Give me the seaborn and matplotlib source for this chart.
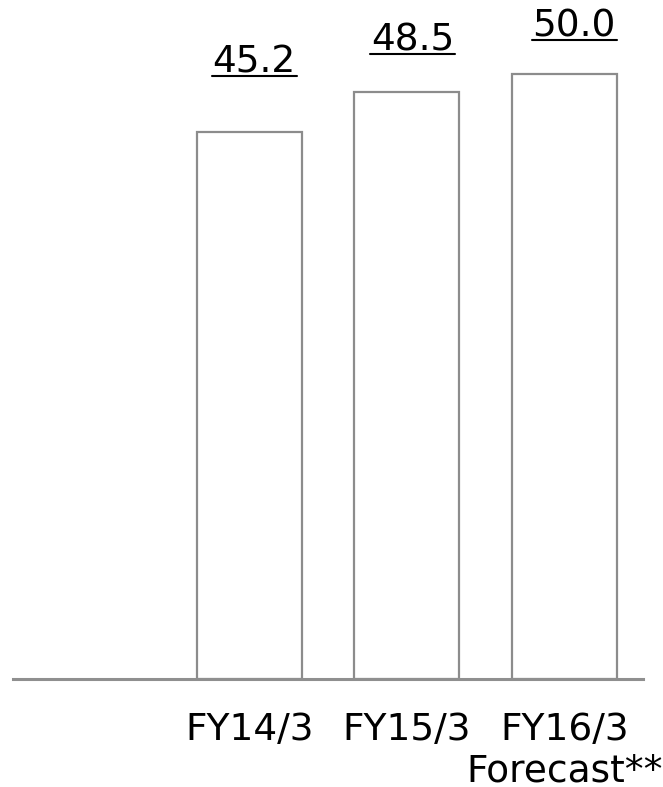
import matplotlib
matplotlib.use("Agg")
import matplotlib.pyplot as plt
import seaborn as sns
import pandas as pd
from matplotlib.lines import Line2D

# ---- data ----
categories = ["FY14/3", "FY15/3", "FY16/3\nForecast**"]
values = [45.2, 48.5, 50.0]
value_labels = ["45.2", "48.5", "50.0"]
slot_order = [""] + categories  # empty leading slot

# ---- style ----
label_offsets_px = [(5, 59), (6, 41), (10, 37)]  # (dx, dy) from bar top, pixels
edge_color = "#8c8c8c"
DPI = 100
FS = 27

sns.set_theme(style="white")
plt.rcParams["font.family"] = ["DejaVu Sans"]

fig = plt.figure(figsize=(6.63, 7.87), dpi=DPI)
ax = fig.add_axes([13 / 663, 1 - 679 / 787, 630 / 663, 679 / 787])

df = pd.DataFrame({"cat": categories, "val": values})
sns.barplot(data=df, x="cat", y="val", order=slot_order, ax=ax,
            color="white", edgecolor=edge_color, linewidth=1.6,
            width=0.667, saturation=1)

ax.set_xlim(-0.5, len(slot_order) - 0.5)
ax.set_ylim(0, 56.1)
ax.set_xlabel("")
ax.set_ylabel("")
ax.set_yticks([])
for s in ["top", "right", "left"]:
    ax.spines[s].set_visible(False)
ax.spines["bottom"].set_color("#8f8f8f")
ax.spines["bottom"].set_linewidth(2.2)
ax.tick_params(axis="x", length=0, pad=24, labelsize=FS, labelcolor="black")
for t in ax.get_xticklabels():
    t.set_linespacing(1.2)

# value labels with underline
texts = []
for i, (v, lab) in enumerate(zip(values, value_labels)):
    dx, dy = label_offsets_px[i]
    t = ax.annotate(lab, xy=(i + 1, v), xytext=(dx * 72 / DPI, dy * 72 / DPI),
                    textcoords="offset points", ha="center", va="baseline",
                    fontsize=FS, color="black")
    texts.append(t)

fig.canvas.draw()
r = fig.canvas.get_renderer()
W, H = fig.bbox.width, fig.bbox.height
for t in texts:
    bb = t.get_window_extent(r)
    x0, x1 = bb.x0 - 1, bb.x1 + 1
    xy_disp = ax.transData.transform(t.xy)
    off = t.xyann[1] * DPI / 72
    yb = xy_disp[1] + off - 3
    fig.add_artist(Line2D([x0 / W, x1 / W], [yb / H, yb / H],
                          transform=fig.transFigure, color="black", linewidth=1.5))

fig.savefig("out.png", dpi=DPI)
